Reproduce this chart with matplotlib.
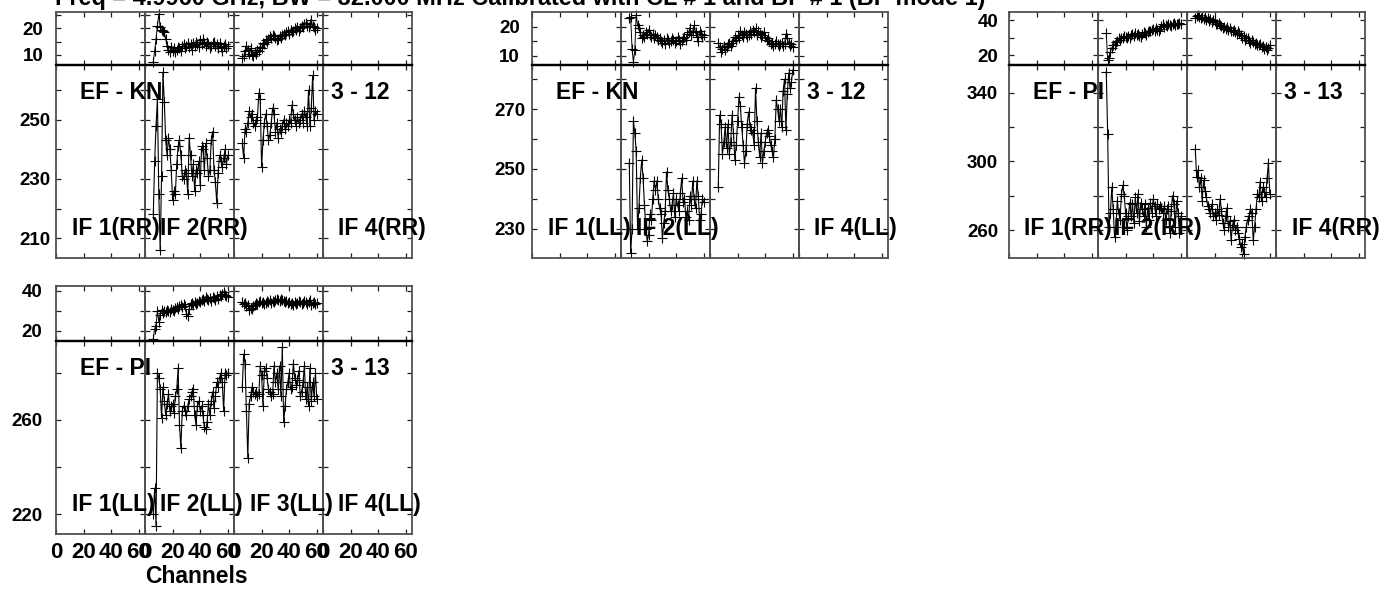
import matplotlib
matplotlib.use('Agg')
import matplotlib.pyplot as plt

plt.rcParams['font.family'] = ['Liberation Sans', 'DejaVu Sans']
plt.rcParams['font.weight'] = 'bold'

W, H = 1399, 590

# ---------------- data ----------------
channels = list(range(6, 61))
tick_channels = [0, 20, 40, 60]
tick_channel_labels = ['0', '20', '40', '60']

title = "Freq = 4.9960 GHz, BW = 32.000 MHz Calibrated with CL # 1 and BP # 1 (BP mode 1)"
xlabel = "Channels"

# EF - KN, RR (3 - 12)
kn_rr_if2_phase = [7.5, 11.5, 16.0, 21.0, 25.2, 20.5, 19.5, 19.0, 18.5, 16.0, 13.5,
                   12.0, 11.0, 13.0, 11.5, 12.5, 11.0, 12.0, 13.0, 12.5, 11.5, 13.5,
                   14.0, 12.5, 13.5, 14.5, 13.0, 14.0, 12.0, 14.5, 13.5, 15.0, 14.0,
                   13.0, 15.5, 14.0, 16.0, 14.5, 13.5, 15.0, 14.0, 12.5, 13.5, 14.5,
                   15.0, 13.5, 14.0, 12.5, 14.5, 13.0, 11.5, 13.5, 14.0, 12.5, 13.5]
kn_rr_if3_phase = [9.0, 9.5, 11.5, 13.5, 12.0, 10.5, 12.5, 10.0, 9.5, 11.0, 10.5,
                   12.0, 11.5, 13.0, 12.5, 14.5, 14.0, 15.5, 15.0, 16.0, 17.0, 16.5,
                   17.5, 17.0, 16.5, 15.5, 16.0, 17.0, 16.5, 17.5, 18.0, 17.5, 18.5,
                   19.0, 18.0, 19.5, 18.5, 19.0, 20.0, 19.5, 20.5, 19.0, 20.0, 21.0,
                   20.5, 21.5, 22.0, 21.0, 20.5, 21.5, 23.0, 21.0, 20.5, 19.5, 20.0]
kn_rr_if2_amp = [218, 236, 248, 257, 225, 206, 231, 266, 256, 243, 238,
                 244, 240, 233, 223, 226, 225, 235, 241, 243, 238, 231,
                 230, 233, 232, 225, 244, 238, 231, 235, 226, 233, 232,
                 236, 228, 241, 240, 233, 242, 237, 231, 233, 243, 246,
                 233, 229, 222, 232, 238, 236, 234, 237, 240, 235, 238]
kn_rr_if3_amp = [242, 237, 247, 246, 249, 253, 251, 252, 249, 248, 250,
                 251, 259, 257, 234, 243, 249, 252, 248, 243, 245, 249,
                 254, 252, 246, 249, 244, 247, 246, 248, 250, 247, 249,
                 248, 250, 249, 255, 252, 250, 248, 251, 249, 250, 252,
                 249, 253, 251, 248, 260, 248, 254, 265, 250, 253, 252]

# EF - KN, LL (3 - 12)
kn_ll_if2_phase = [22.8, 23.4, 12.5, 8.0, 12.0, 24.0, 20.5, 19.5, 18.0, 16.0, 17.0,
                   16.5, 18.0, 17.5, 19.0, 17.0, 16.5, 17.5, 16.0, 17.0, 16.5, 15.5,
                   16.0, 15.0, 14.5, 15.5, 14.0, 16.0, 15.5, 14.5, 15.0, 16.0, 15.5,
                   14.5, 15.0, 16.5, 15.5, 14.0, 15.0, 16.0, 16.5, 15.5, 17.5, 18.0,
                   19.5, 17.0, 18.5, 20.5, 18.0, 16.5, 15.0, 18.5, 17.5, 16.5, 17.0]
kn_ll_if3_phase = [14.5, 13.0, 11.5, 12.5, 13.5, 12.0, 13.0, 14.0, 14.5, 13.5, 14.5,
                   15.0, 16.5, 15.5, 17.0, 16.0, 18.5, 17.0, 16.5, 18.0, 17.5, 16.5,
                   17.0, 18.5, 17.5, 19.0, 18.0, 19.5, 17.0, 18.5, 17.5, 16.5, 17.0,
                   18.0, 16.5, 15.5, 16.0, 15.0, 14.0, 14.5, 13.5, 14.0, 15.0, 14.0,
                   13.5, 14.0, 14.5, 13.5, 14.0, 17.5, 16.0, 14.5, 13.5, 14.0, 13.0]
kn_ll_if2_amp = [252, 222, 230, 266, 262, 256, 230, 237, 247, 253, 247,
                 238, 230, 226, 228, 235, 233, 240, 246, 243, 246, 240,
                 237, 235, 227, 232, 236, 249, 243, 240, 236, 238, 242,
                 234, 240, 238, 236, 242, 247, 239, 240, 234, 236, 233,
                 241, 238, 246, 240, 237, 246, 241, 233, 235, 240, 239]
kn_ll_if3_amp = [244, 268, 265, 255, 259, 264, 257, 265, 255, 259, 268,
                 262, 253, 258, 266, 274, 271, 264, 258, 252, 256, 265,
                 269, 264, 263, 262, 258, 277, 266, 259, 254, 262, 252,
                 256, 259, 262, 263, 261, 258, 256, 254, 260, 273, 270,
                 266, 270, 264, 276, 280, 263, 275, 282, 277, 279, 283]

# EF - PI, RR (3 - 13)
pi_rr_if2_phase = [32.5, 17.0, 18.5, 22.0, 24.0, 25.5, 26.0, 27.5, 28.0, 29.5, 28.5,
                   30.0, 29.5, 31.0, 30.5, 29.5, 31.0, 30.0, 31.5, 32.0, 31.0, 32.5,
                   31.5, 32.0, 31.0, 30.5, 32.0, 33.0, 32.5, 31.5, 33.0, 34.0, 33.5,
                   34.5, 35.0, 34.0, 35.5, 34.5, 34.0, 35.0, 36.5, 37.5, 36.0, 37.0,
                   36.5, 38.0, 37.0, 36.5, 37.5, 38.5, 37.0, 38.0, 37.5, 38.5, 38.0]
pi_rr_if3_phase = [41.0, 42.5, 43.0, 41.5, 41.0, 42.0, 40.5, 41.5, 40.0, 41.0, 39.5,
                   40.5, 39.0, 40.0, 39.5, 38.0, 37.5, 38.5, 37.0, 36.5, 35.5, 36.0,
                   35.0, 36.0, 34.5, 35.5, 34.0, 33.5, 34.5, 33.0, 32.0, 33.5, 32.5,
                   31.5, 30.0, 31.0, 28.5, 29.5, 30.0, 28.0, 27.0, 28.5, 27.5, 26.5,
                   27.0, 26.0, 25.5, 26.5, 24.5, 25.0, 23.5, 24.5, 23.0, 24.0, 25.5]
pi_rr_if2_amp = [352, 316, 262, 270, 285, 272, 256, 262, 277, 270, 266,
                 281, 286, 280, 270, 260, 268, 276, 268, 275, 264, 279,
                 270, 281, 265, 276, 272, 268, 275, 262, 273, 266, 276,
                 270, 278, 274, 268, 275, 272, 274, 273, 270, 274, 266,
                 272, 274, 258, 271, 280, 275, 262, 277, 270, 258, 268]
pi_rr_if3_amp = [307, 291, 295, 285, 290, 277, 289, 283, 279, 274, 272,
                 270, 275, 268, 270, 266, 272, 269, 278, 271, 264, 260,
                 268, 273, 262, 265, 254, 263, 266, 260, 262, 258, 255,
                 250, 252, 246, 256, 262, 266, 268, 272, 270, 254, 262,
                 272, 281, 279, 288, 277, 285, 282, 279, 290, 299, 281]

# EF - PI, LL (3 - 13)
pi_ll_if2_phase = [16.0, 21.0, 22.5, 30.0, 24.5, 28.0, 30.5, 29.0, 30.0, 29.5, 30.5,
                   30.0, 29.5, 31.0, 30.5, 30.0, 31.5, 32.0, 31.0, 32.5, 33.0, 32.0,
                   33.5, 32.5, 28.5, 27.5, 31.0, 33.5, 34.0, 33.0, 34.5, 33.5, 34.0,
                   35.0, 34.5, 35.5, 36.0, 35.0, 37.0, 36.0, 35.5, 36.5, 35.0, 37.0,
                   36.5, 35.5, 37.5, 36.0, 38.0, 37.5, 38.5, 39.5, 38.0, 37.5, 37.0]
pi_ll_if3_phase = [34.5, 33.5, 34.0, 32.5, 33.0, 30.5, 31.5, 31.0, 32.5, 33.0, 34.0,
                   33.5, 34.5, 35.0, 34.0, 34.5, 33.5, 34.0, 35.0, 34.5, 35.5, 34.0,
                   35.0, 34.5, 35.5, 36.0, 35.5, 35.0, 36.0, 35.5, 35.0, 34.5, 35.0,
                   34.0, 34.5, 33.5, 34.0, 33.0, 34.5, 33.5, 34.0, 35.0, 34.5, 33.5,
                   34.0, 35.0, 34.5, 33.5, 34.5, 35.5, 33.0, 34.0, 34.5, 33.5, 34.0]
pi_ll_if2_amp = [220, 231, 215, 280, 278, 273, 261, 274, 268, 262, 267,
                 271, 264, 266, 267, 263, 270, 273, 282, 258, 248, 264,
                 266, 264, 262, 266, 269, 270, 272, 273, 262, 258, 266,
                 268, 264, 266, 262, 257, 256, 259, 267, 262, 268, 272,
                 265, 270, 276, 274, 278, 280, 276, 264, 280, 279, 280]
pi_ll_if3_amp = [274, 288, 284, 264, 244, 267, 270, 274, 272, 271, 272,
                 270, 271, 283, 279, 266, 281, 282, 278, 273, 272, 270,
                 271, 283, 276, 280, 273, 283, 270, 291, 259, 266, 273,
                 276, 280, 273, 274, 284, 278, 275, 277, 281, 270, 272,
                 276, 283, 269, 274, 266, 282, 268, 276, 270, 280, 269]

# ---------------- layout (pixels) ----------------
fig = plt.figure(figsize=(W / 100, H / 100), dpi=100)

SUBW = 89
groups = [
    dict(left=56, top=12, mid=65, bottom=258, pol='RR', base='EF - KN', tag='3 - 12',
         phase={2: kn_rr_if2_phase, 3: kn_rr_if3_phase},
         amp={2: kn_rr_if2_amp, 3: kn_rr_if3_amp},
         ph_lim=(6.25, 26.1), ph_ticks=[10, 15, 20, 25], ph_lab=[10, 20], ph_pad=9.0,
         amp_lim=(203.3, 268.5), amp_ticks=[210, 220, 230, 240, 250, 260],
         amp_lab=[210, 230, 250], amp_pad=4.3, ifs=[1, 2, 4], xlabels=False),
    dict(left=532, top=12, mid=65, bottom=258, pol='LL', base='EF - KN', tag='3 - 12',
         phase={2: kn_ll_if2_phase, 3: kn_ll_if3_phase},
         amp={2: kn_ll_if2_amp, 3: kn_ll_if3_amp},
         ph_lim=(6.9, 25.0), ph_ticks=[10, 15, 20], ph_lab=[10, 20], ph_pad=8.6,
         amp_lim=(220.3, 284.7), amp_ticks=[230, 240, 250, 260, 270, 280],
         amp_lab=[230, 250, 270], amp_pad=5.0, ifs=[1, 2, 4], xlabels=False),
    dict(left=1009, top=12, mid=65, bottom=258, pol='RR', base='EF - PI', tag='3 - 13',
         phase={2: pi_rr_if2_phase, 3: pi_rr_if3_phase},
         amp={2: pi_rr_if2_amp, 3: pi_rr_if3_amp},
         ph_lim=(14.3, 44.6), ph_ticks=[20, 30, 40], ph_lab=[20, 40], ph_pad=7.9,
         amp_lim=(243.7, 356.1), amp_ticks=[260, 280, 300, 320, 340],
         amp_lab=[260, 300, 340], amp_pad=7.9, ifs=[1, 2, 4], xlabels=False),
    dict(left=56, top=286, mid=341, bottom=534, pol='LL', base='EF - PI', tag='3 - 13',
         phase={2: pi_ll_if2_phase, 3: pi_ll_if3_phase},
         amp={2: pi_ll_if2_amp, 3: pi_ll_if3_amp},
         ph_lim=(14.85, 42.35), ph_ticks=[20, 30, 40], ph_lab=[20, 40], ph_pad=10.0,
         amp_lim=(211.5, 293.6), amp_ticks=[220, 240, 260, 280],
         amp_lab=[220, 260], amp_pad=10.0, ifs=[1, 2, 3, 4], xlabels=True),
]

FRAME = '#505050'
YTICKFS = 13.5
XTICKFS = 16
LABFS = 16.5


def fx(x):
    return x / W


def fy(y):
    return 1 - y / H


def style(ax, ticks, labs, lim, pad, showy, showx):
    ax.set_xlim(0, 64.5)
    ax.set_ylim(*lim)
    ax.set_xticks(tick_channels)
    ax.set_yticks(ticks)
    ax.set_yticklabels([str(t) if (t in labs and showy) else '' for t in ticks])
    if showx:
        ax.set_xticklabels(tick_channel_labels)
    else:
        ax.set_xticklabels([''] * len(tick_channels))
    ax.tick_params(direction='in', top=True, right=True, length=3.6, width=0.9,
                   color='#202020')
    ax.tick_params(axis='y', pad=pad, labelsize=YTICKFS)
    ax.tick_params(axis='x', pad=6.0, labelsize=XTICKFS)
    for s in ax.spines.values():
        s.set_color(FRAME)
        s.set_linewidth(1.3)
    ax.patch.set_alpha(0)


for g in groups:
    for i in range(4):
        x0 = g['left'] + i * SUBW
        ax_ph = fig.add_axes([fx(x0), fy(g['mid']), SUBW / W, (g['mid'] - g['top']) / H])
        ax_am = fig.add_axes([fx(x0), fy(g['bottom']), SUBW / W, (g['bottom'] - g['mid']) / H])
        style(ax_ph, g['ph_ticks'], g['ph_lab'], g['ph_lim'], g['ph_pad'], i == 0, False)
        style(ax_am, g['amp_ticks'], g['amp_lab'], g['amp_lim'], g['amp_pad'], i == 0,
              g['xlabels'])
        ax_ph.spines['bottom'].set_color('black')
        ax_ph.spines['bottom'].set_linewidth(1.6)
        ax_am.spines['top'].set_color('black')
        ax_am.spines['top'].set_linewidth(1.6)
        ifn = i + 1
        if ifn in g['phase']:
            vals = g['phase'][ifn]
            ax_ph.plot(channels[:len(vals)], vals, color='black', lw=0.7,
                       marker='+', ms=7, mew=0.8, clip_on=False)
            vals = g['amp'][ifn]
            ax_am.plot(channels[:len(vals)], vals, color='black', lw=0.8,
                       marker='+', ms=7.5, mew=0.8, clip_on=False)
        if ifn in g['ifs']:
            fig.text(fx(x0 + 15.5), fy(g['bottom'] - 23), f"IF {ifn}({g['pol']})",
                     ha='left', va='baseline', fontsize=LABFS, fontweight='bold')
    fig.text(fx(g['left'] + 24), fy(g['mid'] + 34), g['base'], ha='left',
             va='baseline', fontsize=LABFS, fontweight='bold')
    fig.text(fx(g['left'] + 3 * SUBW + 8), fy(g['mid'] + 34), g['tag'], ha='left',
             va='baseline', fontsize=LABFS, fontweight='bold')

fig.text(fx(55), fy(5.5), title, ha='left', va='baseline', fontsize=16.9,
         fontweight='bold')
fig.text(fx(145), fy(583), xlabel, ha='left', va='baseline', fontsize=LABFS,
         fontweight='bold')

fig.savefig('out.png', dpi=100)
